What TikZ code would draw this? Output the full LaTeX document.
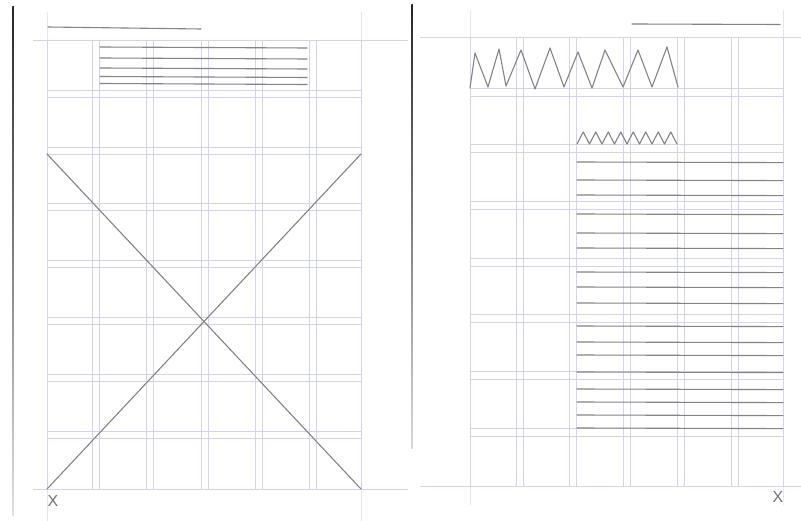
\documentclass[tikz,border=0pt]{standalone}
\usepackage{fontspec}
\setsansfont{Liberation Sans}
\definecolor{gridblue}{RGB}{212,212,232}
\definecolor{leadgray}{RGB}{132,132,132}
\begin{document}
\begin{tikzpicture}[x = 1pt, y = -1pt,
		gridline/.style = {draw = gridblue, line width = .65pt},
		gridfaint/.style = {draw = gridblue!55, line width = .65pt},
		pencil/.style = {draw = leadgray, line width = 1.1pt, line cap = round, line join = round},
		xlabel/.style = {text = black!55, font = \sffamily\fontsize{16}{16}\selectfont, inner sep = 0pt}]
	\useasboundingbox[fill = white] (0, 0) rectangle (801, 521);
	% page edges
	\shade[top color = black!85, bottom color = black!12] (12.3, 7) rectangle (13.9, 515);
	\shade[top color = black!85, bottom color = black!15] (411.3, 5) rectangle (412.9, 448);
	% left page: grid
	\def\lsp{56.83}
	\foreach \x in {92, 146, 201, 255, 309}
	\draw[gridline] (\x, 40)--(\x, 489) (\x+7.5, 40)--(\x+7.5, 489);
	\foreach \x in {47, 361} {
		\draw[gridfaint] (\x, 12)--(\x, 521);
		\draw[gridline] (\x, 40)--(\x, 489);
	}
	\foreach \i in {0, ..., 6}
	\draw[gridline] (47, {90+\lsp*\i})--(361, {90+\lsp*\i}) (47, {97+\lsp*\i})--(361, {97+\lsp*\i});
	\draw[gridline] (33, 40)--(408, 40) (33, 489)--(408, 489);
	% left page: pencil
	\draw[pencil] (48, 27)--(201, 29);
	\foreach \y in {47, 58, 68, 76.5, 83.5}
	\draw[pencil] (100, \y)--(307, \y+1);
	\draw[pencil] (47, 154)--(361, 489) (361, 154)--(47, 489);
	\node[xlabel] (lx) at (53, 501) {X};
	% right page: grid
	\def\rsp{56.67}
	\foreach \x in {516, 569, 623, 677, 731}
	\draw[gridline] (\x, 37)--(\x, 486) (\x+7.5, 37)--(\x+7.5, 486);
	\foreach \x in {470, 783} {
		\draw[gridfaint] (\x, 10)--(\x, 505);
		\draw[gridline] (\x, 37)--(\x, 486);
	}
	\foreach \i in {0, ..., 6}
	\draw[gridline] (470, {88+\rsp*\i})--(783, {88+\rsp*\i}) (470, {96+\rsp*\i})--(783, {96+\rsp*\i});
	\draw[gridline] (420, 37)--(801, 37) (420, 486)--(801, 486);
	% right page: pencil
	\draw[pencil] (632, 24)--(780, 24.5);
	\draw[pencil] (470, 88)--(475, 53)--(488, 87)--(499, 49)--(506, 86)--(521, 50)--(535, 89)
		--(550, 48)--(564, 87)--(578, 52)--(592, 88)--(605, 50)--(623, 87)--(638, 50)
		--(652, 87)--(667, 47)--(678, 87);
	\draw[pencil] (577, 144) \foreach \k in {1, ..., 8} {--({577+12.5*\k-6.25}, 132)--({577+12.5*\k}, 144)};
	\foreach \y in {162, 180, 195, 214, 233, 248, 272, 287, 303, 326, 342, 355, 372, 389, 402, 415, 428}
	\draw[pencil] (577, \y)--(783, \y+.6);
	\node[xlabel] (rx) at (778, 497) {X};
\end{tikzpicture}
\end{document}
